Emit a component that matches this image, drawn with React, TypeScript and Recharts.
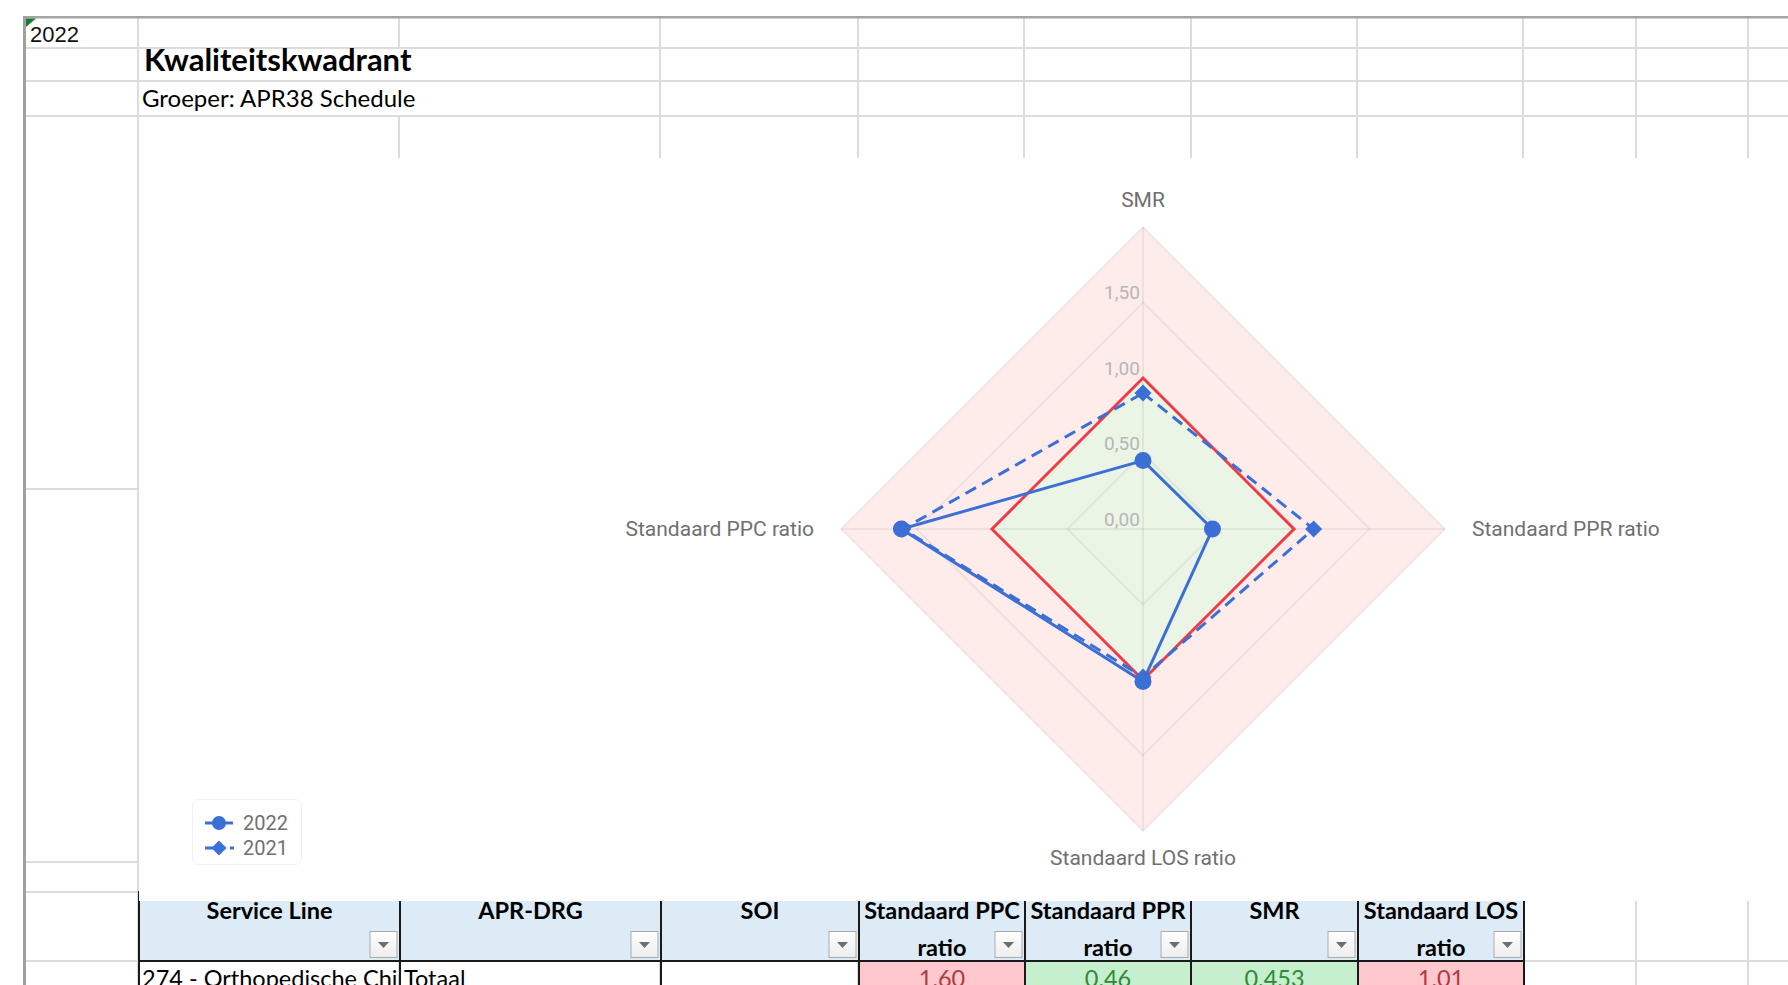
import React from 'react';
import { RadarChart, Radar, PolarGrid, PolarAngleAxis, PolarRadiusAxis, Legend } from 'recharts';

// ---------- data ----------
const axisLabels = ['SMR', 'Standaard PPR ratio', 'Standaard LOS ratio', 'Standaard PPC ratio'];
const values2022 = [0.453, 0.46, 1.01, 1.6];
const values2021 = [0.9, 1.13, 0.98, 1.59];
const normValues = [1, 1, 1, 1];
const outerValues = [2, 2, 2, 2];
const radiusTicks = [0, 0.5, 1, 1.5, 2];
const seriesOrder = ['2022', '2021'];

const tableHeaders = [
  ['Service Line'],
  ['APR-DRG'],
  ['SOI'],
  ['Standaard PPC', 'ratio'],
  ['Standaard PPR', 'ratio'],
  ['SMR'],
  ['Standaard LOS', 'ratio'],
];
const tableRowText = ['274 - Orthopedische Chirurgie', 'Totaal', ''];
const tableRatioValues = [1.6, 0.46, 0.453, 1.01];
const tableRatioLabels = ['1.60', '0.46', '0.453', '1.01'];

const data = axisLabels.map((axis, i) => ({
  axis,
  outer: outerValues[i],
  norm: normValues[i],
  y2021: values2021[i],
  y2022: values2022[i],
}));

// ---------- styling ----------
const BLUE = '#3B6FD6';
const RED = '#EF3B45';
const XL_FONT = "Lato, 'Open Sans', sans-serif";
const CH_FONT = "Roboto, 'Noto Sans', sans-serif";

// sheet layout (page pixels)
const colXs = [138, 399, 660, 858, 1024, 1191, 1357, 1523, 1636, 1748];
const tableCols = [139, 400, 661, 859, 1025, 1191, 1358, 1524];
const CHART_LEFT = 139;
const CHART_TOP = 158;
const CHART_W = 1649;
const CHART_H = 743;

const renderCircleDot = (props: any) => (
  <circle key={`c-${props.index}`} cx={props.cx} cy={props.cy} r={8.5} fill={BLUE} stroke="none" />
);
const renderDiamondDot = (props: any) => {
  const { cx, cy } = props;
  const s = 8.5;
  return (
    <polygon
      key={`d-${props.index}`}
      points={`${cx},${cy - s} ${cx + s},${cy} ${cx},${cy + s} ${cx - s},${cy}`}
      fill={BLUE}
      stroke="none"
    />
  );
};

const renderAngleTick = (props: any) => {
  const { x, y, textAnchor, payload } = props;
  return (
    <text x={x} y={y} textAnchor={textAnchor} dominantBaseline="central" fill="#707070" fontSize={21} fontFamily={CH_FONT}>
      {payload.value}
    </text>
  );
};

const renderRadiusTick = (props: any) => {
  const { x, y, payload } = props;
  const v = Number(payload.value);
  if (v >= 2) return <g />;
  return (
    <text x={x - 21} y={y - 10} textAnchor="middle" dominantBaseline="central" fill="#B6B6B6" fontSize={19} fontFamily={CH_FONT}>
      {v.toFixed(2).replace('.', ',')}
    </text>
  );
};

const renderLegend = (props: any) => {
  const items = [...(props.payload || [])]
    .filter((p: any) => seriesOrder.includes(String(p.value)))
    .sort((a: any, b: any) => seriesOrder.indexOf(String(a.value)) - seriesOrder.indexOf(String(b.value)));
  return (
    <div
      style={{
        position: 'relative',
        width: 110,
        height: 66,
        border: '1px solid #F1F1F1',
        borderRadius: 7,
        boxSizing: 'border-box',
        background: '#fff',
        fontFamily: CH_FONT,
      }}
    >
      {items.map((item: any, i: number) => {
        const dashed = String(item.value) === '2021';
        const cyy = 23 + i * 25;
        return (
          <div key={String(item.value)}>
            <svg width={40} height={20} style={{ position: 'absolute', left: 10, top: cyy - 10 }}>
              {dashed ? (
                <g>
                  <line x1={2} y1={10} x2={22} y2={10} stroke={item.color || BLUE} strokeWidth={3} />
                  <line x1={27} y1={10} x2={31} y2={10} stroke={item.color || BLUE} strokeWidth={3} />
                  <polygon points="16,2.5 23.5,10 16,17.5 8.5,10" fill={item.color || BLUE} />
                </g>
              ) : (
                <g>
                  <line x1={2} y1={10} x2={30} y2={10} stroke={item.color || BLUE} strokeWidth={3} />
                  <circle cx={16} cy={10} r={7} fill={item.color || BLUE} />
                </g>
              )}
            </svg>
            <span
              style={{
                position: 'absolute',
                left: 50,
                top: cyy - 12,
                lineHeight: '24px',
                fontSize: 20,
                color: '#707070',
              }}
            >
              {item.value}
            </span>
          </div>
        );
      })}
    </div>
  );
};

const Sheet = () => {
  const lines: React.ReactNode[] = [];
  colXs.forEach((x, i) => {
    if (x === 399) {
      lines.push(<rect key={`v${i}a`} x={x - 1} y={17} width={2} height={31} fill="#DCDCDC" />);
      lines.push(<rect key={`v${i}b`} x={x - 1} y={116} width={2} height={869} fill="#DCDCDC" />);
    } else {
      lines.push(<rect key={`v${i}`} x={x - 1} y={17} width={2} height={968} fill="#DCDCDC" />);
    }
  });
  [48, 81, 116, 961].forEach((y) => lines.push(<rect key={`h${y}`} x={24} y={y - 1} width={1764} height={2} fill="#DCDCDC" />));
  [489, 862, 892].forEach((y) => lines.push(<rect key={`hA${y}`} x={24} y={y - 1} width={114} height={2} fill="#DCDCDC" />));

  return (
    <svg width={1788} height={985} style={{ position: 'absolute', left: 0, top: 0 }}>
      <rect x={0} y={0} width={1788} height={985} fill="#fff" />
      {lines}
      <rect x={23} y={16} width={1765} height={2.5} fill="#A4A4A4" />
      <rect x={23} y={16} width={3} height={969} fill="#A0A0A0" />
      <polygon points="26,18.5 36,18.5 26,27" fill="#1E7B34" />
      <text x={30} y={42} fontFamily="'Liberation Sans', Arial, sans-serif" fontSize={22} fill="#111">2022</text>
      <text x={144} y={71} fontFamily={XL_FONT} fontWeight={700} fontSize={31} fill="#000">Kwaliteitskwadrant</text>
      <text x={142} y={107} fontFamily={XL_FONT} fontSize={24} fill="#000">Groeper: APR38 Schedule</text>

      <rect x={139} y={891} width={1385} height={70} fill="#DDEBF7" />
      {tableHeaders.map((lbls, i) => {
        const l = tableCols[i];
        const r = tableCols[i + 1];
        const c = (l + r) / 2;
        return (
          <g key={`th${i}`}>
            {lbls.map((t, j) => (
              <text key={j} x={c} y={j === 0 ? 919 : 956} textAnchor="middle" fontFamily={XL_FONT} fontWeight={700} fontSize={23.5} fill="#000">
                {t}
              </text>
            ))}
            <defs>
              <linearGradient id={`btn${i}`} x1="0" y1="0" x2="0" y2="1">
                <stop offset="0" stopColor="#FFFFFF" />
                <stop offset="1" stopColor="#EDEDED" />
              </linearGradient>
            </defs>
            <rect x={r - 30} y={931.5} width={27} height={26} fill={`url(#btn${i})`} stroke="#ABABAB" strokeWidth={1} />
            <polygon points={`${r - 22},${942} ${r - 11},${942} ${r - 16.5},${948}`} fill="#6E6E6E" />
          </g>
        );
      })}

      <defs>
        <clipPath id="clipCol0">
          <rect x={139} y={961} width={260} height={30} />
        </clipPath>
      </defs>
      {tableRatioValues.map((v, i) => (
        <rect key={`bg${i}`} x={tableCols[3 + i]} y={962} width={tableCols[4 + i] - tableCols[3 + i]} height={24} fill={v > 1 ? '#FFC7CE' : '#C6EFCE'} />
      ))}
      <text x={142} y={987} fontFamily={XL_FONT} fontSize={23.5} fill="#000" clipPath="url(#clipCol0)">{tableRowText[0]}</text>
      <text x={404} y={987} fontFamily={XL_FONT} fontSize={23.5} fill="#000">{tableRowText[1]}</text>
      {tableRatioLabels.map((t, i) => (
        <text
          key={`tv${i}`}
          x={(tableCols[3 + i] + tableCols[4 + i]) / 2}
          y={987}
          textAnchor="middle"
          fontFamily={XL_FONT}
          fontSize={23.5}
          fill={tableRatioValues[i] > 1 ? '#B03A40' : '#2F8A3A'}
        >
          {t}
        </text>
      ))}
      {tableCols.map((x, i) => (
        <rect key={`tb${i}`} x={x - 1} y={891} width={2} height={94} fill="#1A1A1A" />
      ))}
      <rect x={138} y={960} width={1387} height={2} fill="#1A1A1A" />
    </svg>
  );
};

export default function App() {
  return (
    <div style={{ position: 'absolute', left: 0, top: 0, width: 1788, height: 985, overflow: 'hidden', background: '#fff' }}>
      <Sheet />
      <div style={{ position: 'absolute', left: CHART_LEFT, top: CHART_TOP, width: CHART_W, height: CHART_H, background: '#fff' }}>
        <RadarChart
          width={CHART_W}
          height={CHART_H}
          data={data}
          cx={1004}
          cy={371}
          outerRadius={302}
          margin={{ top: 0, right: 0, bottom: 0, left: 0 }}
        >
          <Radar dataKey="outer" fill="#F44336" fillOpacity={0.1} stroke="none" dot={false} legendType="none" isAnimationActive={false} />
          <Radar dataKey="norm" fill="#D6FEE1" fillOpacity={0.5} stroke="none" dot={false} legendType="none" isAnimationActive={false} />
          <PolarGrid gridType="polygon" stroke="rgba(0,0,0,0.055)" strokeWidth={2} zIndex={150} />
          <PolarAngleAxis dataKey="axis" tick={renderAngleTick} tickLine={false} axisLine={false} tickSize={27} />
          <PolarRadiusAxis
            angle={90}
            domain={[0, 2]}
            ticks={radiusTicks}
            tickCount={5}
            tick={renderRadiusTick}
            axisLine={false}
            tickLine={false}
          />
          <Radar dataKey="norm" fill="none" fillOpacity={0} stroke={RED} strokeWidth={3} dot={false} legendType="none" isAnimationActive={false} zIndex={400} />
          <Radar
            name="2021"
            dataKey="y2021"
            stroke={BLUE}
            strokeWidth={3}
            strokeDasharray="12 7"
            fill="none"
            fillOpacity={0}
            dot={renderDiamondDot}
            isAnimationActive={false}
            zIndex={410}
          />
          <Radar
            name="2022"
            dataKey="y2022"
            stroke={BLUE}
            strokeWidth={3}
            fill="none"
            fillOpacity={0}
            dot={renderCircleDot}
            isAnimationActive={false}
            zIndex={420}
          />
          <Legend
            verticalAlign="bottom"
            align="left"
            content={renderLegend}
            wrapperStyle={{ left: 53, top: 641, bottom: 'auto', width: 110, height: 66 }}
          />
        </RadarChart>
      </div>
    </div>
  );
}
